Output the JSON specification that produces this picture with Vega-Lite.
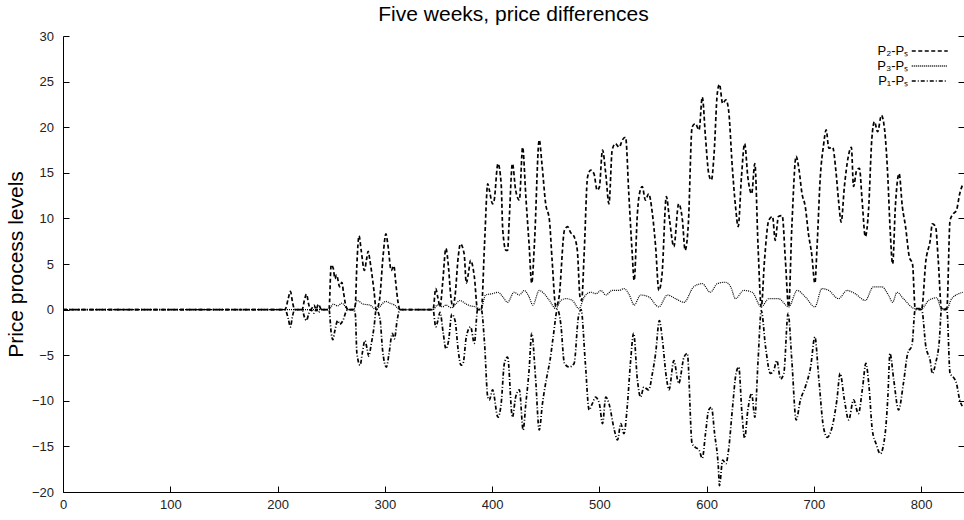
{
  "$schema": "https://vega.github.io/schema/vega-lite/v6.json",
  "autosize": {"type": "none"},
  "padding": {"left": 63, "top": 36, "right": 0, "bottom": 28},
  "width": 901,
  "height": 456,
  "background": "white",
  "title": {"text": "Five weeks, price differences", "font": "Liberation Sans", "fontSize": 21, "fontWeight": "normal", "color": "black", "anchor": "middle", "frame": "group", "offset": 5},
  "config": {
    "view": {"stroke": null},
    "axis": {"labelFont": "Liberation Sans", "labelFontSize": 13, "labelColor": "#222", "tickColor": "black", "domainColor": "black", "tickSize": -6, "grid": false, "titleFont": "Liberation Sans", "titleFontSize": 21, "titleFontWeight": "normal", "titleColor": "black"}
  },
  "datasets": {
    "p2": [
      {"x":0,"y":0},{"x":207,"y":0},{"x":210,"y":1.2},{"x":212,"y":2.0},{"x":214,"y":0.8},{"x":216,"y":0},{"x":223,"y":0},{"x":225,"y":1.0},{"x":227,"y":1.7},{"x":229,"y":0.6},{"x":231,"y":0},{"x":234,"y":0.5},{"x":236,"y":0},{"x":238,"y":0.6},{"x":241,"y":0},{"x":248,"y":0},{"x":250,"y":4.9},{"x":252,"y":4.5},{"x":253.5,"y":3.4},{"x":255,"y":3.8},{"x":258,"y":2.5},{"x":260,"y":3.0},{"x":261.5,"y":1.9},{"x":264,"y":0.3},{"x":266,"y":0},{"x":271,"y":0},{"x":272.5,"y":0.5},{"x":274,"y":5},{"x":276,"y":8.1},{"x":278,"y":6.5},{"x":281,"y":4.3},{"x":283,"y":5.5},{"x":284.5,"y":6.4},{"x":286,"y":5.5},{"x":287.5,"y":4.3},{"x":290,"y":2.0},{"x":292,"y":0},{"x":295,"y":1},{"x":298.5,"y":6},{"x":301,"y":8.3},{"x":303,"y":7},{"x":306,"y":4.3},{"x":308.5,"y":4.8},{"x":310,"y":3.2},{"x":312.5,"y":0.7},{"x":314,"y":0},{"x":345,"y":0},{"x":347.5,"y":2.3},{"x":349.5,"y":1.3},{"x":351.5,"y":0.3},{"x":354,"y":3},{"x":357,"y":6.7},{"x":359.5,"y":4.5},{"x":361.5,"y":1.5},{"x":363.5,"y":0.3},{"x":365.5,"y":1.5},{"x":368.5,"y":5.8},{"x":370.5,"y":7.2},{"x":374,"y":6.1},{"x":376,"y":2.9},{"x":378,"y":4.0},{"x":380,"y":5.4},{"x":383.5,"y":3.6},{"x":386.5,"y":0},{"x":390,"y":0},{"x":393,"y":7.2},{"x":396,"y":13.8},{"x":397.5,"y":13.1},{"x":400.5,"y":11.6},{"x":402,"y":12},{"x":405.5,"y":16},{"x":408.5,"y":13.8},{"x":410,"y":8.7},{"x":413,"y":6.5},{"x":414.5,"y":6.5},{"x":416,"y":9.8},{"x":419,"y":16},{"x":422,"y":13.1},{"x":425.5,"y":12},{"x":428.5,"y":17.8},{"x":431.5,"y":12.4},{"x":434.5,"y":7.2},{"x":437,"y":2.9},{"x":439.5,"y":7.2},{"x":444,"y":18.6},{"x":446.5,"y":16},{"x":450,"y":11.6},{"x":453.5,"y":9.8},{"x":456,"y":5.4},{"x":459.5,"y":0.3},{"x":462.5,"y":1.4},{"x":467.5,"y":8.7},{"x":470.5,"y":9.1},{"x":473,"y":8.5},{"x":476.5,"y":8},{"x":479.5,"y":6.5},{"x":482,"y":1.4},{"x":483.5,"y":1},{"x":486,"y":6.5},{"x":489,"y":14.5},{"x":492,"y":15.3},{"x":495,"y":14.9},{"x":498,"y":13.1},{"x":500,"y":13.4},{"x":503,"y":17.5},{"x":506,"y":14.9},{"x":509,"y":11.6},{"x":512,"y":17.5},{"x":515,"y":18.2},{"x":518.5,"y":17.8},{"x":521.5,"y":18.6},{"x":524.5,"y":18.9},{"x":527.5,"y":12.7},{"x":530.5,"y":6.5},{"x":532.5,"y":3.2},{"x":535.5,"y":10.5},{"x":537,"y":12.4},{"x":540,"y":13.5},{"x":543,"y":12},{"x":546,"y":12.7},{"x":549.5,"y":10.5},{"x":552.5,"y":6.9},{"x":555.5,"y":2.1},{"x":558.5,"y":3.9},{"x":562.5,"y":12.4},{"x":565.5,"y":9.8},{"x":569.5,"y":6.9},{"x":574,"y":11.6},{"x":577.5,"y":9.8},{"x":580,"y":6.5},{"x":583,"y":9.4},{"x":586.5,"y":20},{"x":589.5,"y":20.4},{"x":593,"y":19.7},{"x":596,"y":23.3},{"x":599,"y":18.9},{"x":602,"y":14.9},{"x":604.5,"y":14.2},{"x":607,"y":17.1},{"x":610,"y":23.7},{"x":612,"y":24.7},{"x":615,"y":22.6},{"x":618,"y":23},{"x":620.5,"y":21.9},{"x":624,"y":15.6},{"x":627,"y":11.3},{"x":629.5,"y":9.1},{"x":632.5,"y":14.5},{"x":635.5,"y":18.2},{"x":638.5,"y":14.5},{"x":642,"y":12.7},{"x":645,"y":16},{"x":648,"y":6.9},{"x":651,"y":0.3},{"x":654,"y":5.4},{"x":658,"y":9.8},{"x":661.5,"y":10.2},{"x":664,"y":7.6},{"x":667,"y":10.2},{"x":670.5,"y":10.3},{"x":673.5,"y":5.4},{"x":676.5,"y":0.3},{"x":679.5,"y":9.1},{"x":683.5,"y":16.8},{"x":686,"y":15.5},{"x":689,"y":12.7},{"x":692,"y":11.3},{"x":695,"y":8.3},{"x":698,"y":6.1},{"x":701,"y":2.9},{"x":703,"y":6.9},{"x":706,"y":14.5},{"x":709,"y":18},{"x":711.5,"y":19.7},{"x":714,"y":17.7},{"x":717.5,"y":17.8},{"x":720.5,"y":15.3},{"x":723,"y":12},{"x":725.5,"y":9.6},{"x":728.5,"y":13.5},{"x":732,"y":16.7},{"x":735,"y":17.8},{"x":737,"y":13.5},{"x":740,"y":15.3},{"x":742.5,"y":15.5},{"x":745,"y":12},{"x":748,"y":8},{"x":751,"y":10.9},{"x":754,"y":18.6},{"x":756.5,"y":20.6},{"x":759.5,"y":19.5},{"x":763,"y":21.3},{"x":766,"y":19.7},{"x":769,"y":14.5},{"x":771,"y":9.1},{"x":773.5,"y":5},{"x":776,"y":11.3},{"x":779.5,"y":14.9},{"x":782.5,"y":11.3},{"x":785.5,"y":9.1},{"x":789,"y":5.8},{"x":792,"y":5},{"x":794.5,"y":0.1},{"x":800.5,"y":0.1},{"x":804.5,"y":5.4},{"x":808.5,"y":7.6},{"x":810.5,"y":9.4},{"x":813.5,"y":9.1},{"x":816,"y":5.4},{"x":819,"y":0.1},{"x":824,"y":0.1},{"x":827,"y":9.8},{"x":830,"y":10.5},{"x":833,"y":10.9},{"x":836,"y":12.7},{"x":839,"y":13.8}
    ],
    "p3": [
      {"x":0,"y":0},{"x":248,"y":0},{"x":252,"y":0.6},{"x":256,"y":0.4},{"x":260,"y":0.7},{"x":266,"y":0},{"x":271,"y":0},{"x":274,"y":1.0},{"x":280,"y":0.6},{"x":286,"y":0.5},{"x":292,"y":0},{"x":295,"y":0.3},{"x":301,"y":0.9},{"x":305,"y":0.7},{"x":309,"y":0.5},{"x":314,"y":0},{"x":345,"y":0},{"x":349,"y":0.5},{"x":354,"y":0.3},{"x":357,"y":0.5},{"x":362,"y":0.2},{"x":366,"y":0.6},{"x":370,"y":1.0},{"x":376,"y":0.6},{"x":380,"y":0.4},{"x":385,"y":0.3},{"x":389.5,"y":0},{"x":394,"y":1.6},{"x":400.5,"y":1.75},{"x":405.5,"y":1.9},{"x":410,"y":1.4},{"x":414.5,"y":0.8},{"x":420.5,"y":1.9},{"x":425.5,"y":1.6},{"x":430,"y":2.1},{"x":434.5,"y":1.4},{"x":438,"y":0.5},{"x":444,"y":2.1},{"x":448.5,"y":1.75},{"x":453.5,"y":1.0},{"x":459.5,"y":0.1},{"x":464,"y":1.0},{"x":469,"y":1.2},{"x":475,"y":1.0},{"x":481,"y":0.1},{"x":486,"y":1.4},{"x":492,"y":1.9},{"x":497,"y":1.75},{"x":501.5,"y":2.1},{"x":506,"y":1.6},{"x":512,"y":2.1},{"x":518.5,"y":2.1},{"x":523,"y":2.3},{"x":528,"y":1.6},{"x":532.5,"y":0.5},{"x":538.5,"y":1.6},{"x":546,"y":1.4},{"x":555.5,"y":0.3},{"x":563.5,"y":1.6},{"x":571,"y":1.2},{"x":579,"y":0.8},{"x":588,"y":2.5},{"x":596,"y":2.85},{"x":603.5,"y":1.9},{"x":610,"y":2.85},{"x":617.5,"y":3.0},{"x":622.5,"y":2.5},{"x":627,"y":1.2},{"x":634.5,"y":2.1},{"x":642.5,"y":1.9},{"x":651,"y":0.3},{"x":658,"y":1.2},{"x":667,"y":1.2},{"x":676.5,"y":0.3},{"x":684.5,"y":2.1},{"x":692,"y":1.4},{"x":701,"y":0.3},{"x":707.5,"y":2.3},{"x":714,"y":2.1},{"x":723,"y":1.2},{"x":731,"y":2.1},{"x":738.5,"y":1.75},{"x":748,"y":1.0},{"x":755.5,"y":2.5},{"x":763.5,"y":2.5},{"x":769.5,"y":1.6},{"x":773.5,"y":0.8},{"x":777.5,"y":1.9},{"x":783.5,"y":1.2},{"x":794.5,"y":0.1},{"x":800.5,"y":0.1},{"x":807,"y":1.0},{"x":814.5,"y":1.3},{"x":819,"y":0.1},{"x":824,"y":0.1},{"x":828.5,"y":1.2},{"x":839,"y":1.9}
    ],
    "p1": [
      {"x":0,"y":0},{"x":207,"y":0},{"x":210,"y":-1},{"x":212,"y":-1.9},{"x":214,"y":-0.7},{"x":216,"y":0},{"x":223,"y":0},{"x":225,"y":-0.8},{"x":227,"y":-1.2},{"x":229,"y":-0.5},{"x":231,"y":0},{"x":234,"y":-0.4},{"x":236,"y":0},{"x":238,"y":-0.3},{"x":241,"y":0},{"x":248,"y":0},{"x":250,"y":-2.5},{"x":251.5,"y":-3.3},{"x":253.5,"y":-2.3},{"x":256,"y":-1.2},{"x":258,"y":-1.6},{"x":261,"y":-1.2},{"x":264,"y":-0.2},{"x":266,"y":0},{"x":271,"y":0},{"x":272.5,"y":-0.5},{"x":274,"y":-4.8},{"x":277,"y":-6.1},{"x":279,"y":-4.8},{"x":281.5,"y":-3.4},{"x":283.5,"y":-4.3},{"x":285,"y":-5.1},{"x":287.5,"y":-3.7},{"x":290,"y":-1.9},{"x":292,"y":0},{"x":295.5,"y":-1},{"x":298,"y":-4.5},{"x":301.5,"y":-6.3},{"x":304,"y":-4.8},{"x":307,"y":-2.6},{"x":309,"y":-3.2},{"x":311.5,"y":-1.2},{"x":314,"y":0},{"x":345,"y":0},{"x":347.5,"y":-1.9},{"x":349.5,"y":-1.2},{"x":351.5,"y":-0.3},{"x":354.5,"y":-2.6},{"x":357,"y":-4.3},{"x":359.5,"y":-3.4},{"x":362.5,"y":-0.5},{"x":365.5,"y":-1.2},{"x":368.5,"y":-4.5},{"x":371,"y":-6.1},{"x":373,"y":-5.9},{"x":376,"y":-3.0},{"x":380,"y":-1.9},{"x":383.5,"y":-3.7},{"x":386.5,"y":0},{"x":390,"y":0},{"x":393,"y":-3.7},{"x":396,"y":-9.6},{"x":397.5,"y":-9.9},{"x":400.5,"y":-8.8},{"x":405.5,"y":-11.8},{"x":408.5,"y":-10.3},{"x":411.5,"y":-5.9},{"x":414.5,"y":-5.2},{"x":419,"y":-11.8},{"x":422,"y":-9.6},{"x":425.5,"y":-8.8},{"x":429,"y":-13.2},{"x":431.5,"y":-10.3},{"x":434.5,"y":-6.7},{"x":437,"y":-2.6},{"x":440.5,"y":-7.4},{"x":444,"y":-13.2},{"x":447,"y":-10.3},{"x":451,"y":-7.4},{"x":454,"y":-5.6},{"x":457,"y":-3},{"x":461,"y":0},{"x":464,"y":-1.5},{"x":467.5,"y":-5.9},{"x":472,"y":-6.3},{"x":476.5,"y":-5.9},{"x":480.5,"y":-0.8},{"x":483,"y":0},{"x":487,"y":-5.9},{"x":490.5,"y":-11},{"x":493.5,"y":-10.3},{"x":496.5,"y":-9.6},{"x":500,"y":-10.3},{"x":503,"y":-12.5},{"x":506,"y":-9.6},{"x":509,"y":-10.3},{"x":514,"y":-13.2},{"x":517,"y":-14.3},{"x":520,"y":-12.5},{"x":523,"y":-13.6},{"x":526,"y":-10.7},{"x":529,"y":-5.9},{"x":532,"y":-2.6},{"x":535.5,"y":-7.7},{"x":538.5,"y":-9.6},{"x":541.5,"y":-8.5},{"x":546,"y":-8.8},{"x":549.5,"y":-7},{"x":552.5,"y":-4.8},{"x":556,"y":-1.2},{"x":558.5,"y":-3},{"x":562.5,"y":-7.4},{"x":565,"y":-8.8},{"x":569.5,"y":-5.6},{"x":574,"y":-8.1},{"x":579,"y":-5.2},{"x":582,"y":-4.8},{"x":586.5,"y":-14.7},{"x":589.5,"y":-15.1},{"x":593,"y":-15.4},{"x":596,"y":-16.3},{"x":599,"y":-13.6},{"x":602,"y":-11},{"x":604.5,"y":-10.7},{"x":607.5,"y":-13.6},{"x":611,"y":-17.3},{"x":612,"y":-19.3},{"x":615,"y":-16.5},{"x":618,"y":-16.9},{"x":620.5,"y":-15.4},{"x":624,"y":-11},{"x":627.5,"y":-7},{"x":630,"y":-6.3},{"x":633,"y":-11.4},{"x":635.5,"y":-14.1},{"x":638.5,"y":-11},{"x":642,"y":-9.2},{"x":645,"y":-11.8},{"x":648,"y":-5.6},{"x":651,"y":-0.1},{"x":655,"y":-4.1},{"x":659.5,"y":-7},{"x":662.5,"y":-6.7},{"x":665.5,"y":-5.6},{"x":669,"y":-7.6},{"x":672,"y":-7},{"x":676,"y":-0.4},{"x":679.5,"y":-5.6},{"x":683.5,"y":-12.1},{"x":687.5,"y":-9.9},{"x":692,"y":-8.5},{"x":697,"y":-6.3},{"x":701,"y":-3},{"x":704.5,"y":-7.4},{"x":709,"y":-12.9},{"x":712.5,"y":-14},{"x":717,"y":-12.9},{"x":721.5,"y":-9.9},{"x":724.5,"y":-7},{"x":728.5,"y":-9.9},{"x":732.5,"y":-12.1},{"x":737,"y":-9.9},{"x":741.5,"y":-11.4},{"x":745.5,"y":-8.5},{"x":748.5,"y":-5.9},{"x":751.5,"y":-8.5},{"x":754.5,"y":-13.2},{"x":758,"y":-14.7},{"x":762,"y":-15.8},{"x":766.5,"y":-13.6},{"x":769,"y":-9.6},{"x":771,"y":-4.8},{"x":774.5,"y":-7.7},{"x":779,"y":-11},{"x":783.5,"y":-8.1},{"x":787.5,"y":-4.8},{"x":791.5,"y":-3.9},{"x":794.5,"y":0},{"x":800.5,"y":0},{"x":804.5,"y":-4.1},{"x":808.5,"y":-5.6},{"x":810.5,"y":-7},{"x":813.5,"y":-5.9},{"x":817,"y":-3.4},{"x":819,"y":0},{"x":824,"y":0},{"x":827,"y":-7},{"x":830,"y":-7.4},{"x":833,"y":-8.1},{"x":836,"y":-9.9},{"x":839,"y":-10.7}
    ]
  },
  "encoding": {
    "x": {"field": "x", "type": "quantitative", "scale": {"domain": [0, 840], "nice": false, "zero": false}, "axis": {"values": [0,100,200,300,400,500,600,700,800], "title": null, "labelPadding": 12, "labelFlush": false}}
  },
  "layer": [
    {
      "data": {"name": "p2"},
      "mark": {"type": "line", "color": "black", "strokeWidth": 1.7, "interpolate": "monotone", "clip": true},
      "encoding": {
        "y": {"field": "y", "type": "quantitative", "scale": {"domain": [-20, 30], "nice": false, "zero": false}, "axis": {"orient": "left", "values": [-20,-15,-10,-5,0,5,10,15,20,25,30], "title": "Price process levels", "labelPadding": 15.5, "titlePadding": 5, "labelFlush": false}},
        "strokeDash": {"datum": "P₂-Pₛ", "type": "nominal", "scale": {"domain": ["P₂-Pₛ", "P₃-Pₛ", "P₁-Pₛ"], "range": [[4, 2.5], [1, 1], [4, 2, 1, 2]]}, "legend": {"orient": "none", "legendX": 859.75, "legendY": 8, "title": null, "symbolType": "M-3,0H3", "symbolSize": 144, "symbolStrokeColor": "black", "symbolFillColor": "transparent", "symbolStrokeWidth": 1.5, "labelAlign": "right", "labelOffset": -28.5, "labelFont": "Liberation Sans", "labelFontSize": 13, "labelColor": "black", "rowPadding": 1, "padding": 0}}
      }
    },
    {
      "data": {"name": "p3"},
      "mark": {"type": "line", "color": "black", "strokeWidth": 1.2, "interpolate": "monotone", "clip": true},
      "encoding": {
        "y": {"field": "y", "type": "quantitative", "scale": {"domain": [-20, 30], "nice": false, "zero": false}, "axis": {"orient": "right", "values": [-20,-15,-10,-5,0,5,10,15,20,25,30], "labels": false, "domain": false, "title": null}},
        "strokeDash": {"datum": "P₃-Pₛ", "type": "nominal"}
      }
    },
    {
      "data": {"name": "p1"},
      "mark": {"type": "line", "color": "black", "strokeWidth": 1.7, "interpolate": "monotone", "clip": true},
      "encoding": {
        "y": {"field": "y", "type": "quantitative", "scale": {"domain": [-20, 30], "nice": false, "zero": false}, "axis": null},
        "strokeDash": {"datum": "P₁-Pₛ", "type": "nominal"}
      }
    }
  ],
  "resolve": {"scale": {"y": "shared"}, "axis": {"y": "independent"}}
}
